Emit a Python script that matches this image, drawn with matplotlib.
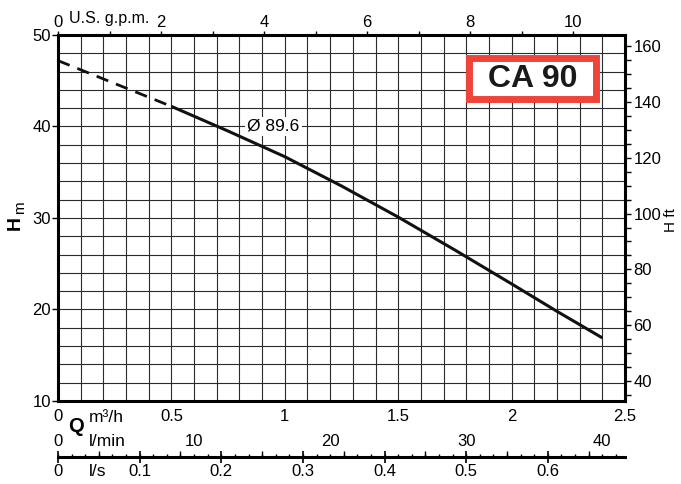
import numpy as np
import matplotlib.pyplot as plt
from matplotlib.ticker import FixedLocator, NullFormatter
from matplotlib.patches import Rectangle

plt.rcParams['font.family'] = ['Liberation Sans', 'DejaVu Sans']

#---------- data ----------
q_dash = [0.0, 0.5]              # m3/h
h_dash = [47.2, 42.2]            # m
q_solid = [0.5, 0.75, 1.0, 1.25, 1.5, 1.75, 2.0, 2.2, 2.4]
h_solid = [42.2, 39.5, 36.7, 33.5, 30.1, 26.5, 22.8, 19.8, 16.9]

q_ticks = [0, 0.5, 1, 1.5, 2, 2.5]
q_labels = ['0', '0.5', '1', '1.5', '2', '2.5']
h_ticks = [10, 20, 30, 40, 50]
gpm_ticks = [0, 2, 4, 6, 8, 10]
ft_ticks = [40, 60, 80, 100, 120, 140, 160]
lmin_ticks = [0, 10, 20, 30, 40]
ls_ticks = [0, 0.1, 0.2, 0.3, 0.4, 0.5, 0.6]
ls_labels = ['0', '0.1', '0.2', '0.3', '0.4', '0.5', '0.6']

curve_name = 'Ø 89.6'
model = 'CA 90'

#---------- unit conversions ----------
GPM = 4.4029      # US gpm per m3/h
FT = 3.28084      # ft per m
LMIN = 1000 / 60  # l/min per m3/h
LS = 1 / 3.6      # l/s per m3/h

FS = 12  # tick label size

W, H = 681, 484
fig = plt.figure(figsize=(W / 100, H / 100), dpi=100)
ax = fig.add_axes([58 / W, 83 / H, 567 / W, 366 / H])

ax.set_xlim(0, 2.5)
ax.set_ylim(10, 50)
ax.set_xticks(q_ticks)
ax.set_xticklabels(q_labels)
ax.set_xticks(np.arange(0, 2.51, 0.1), minor=True)
ax.set_yticks(h_ticks)
ax.set_yticks(np.arange(10, 51, 2), minor=True)
ax.grid(True, which='both', color='#2a2a2a', linewidth=0.8)
ax.set_axisbelow(True)
for s in ax.spines.values():
    s.set_linewidth(2.2)
ax.tick_params(axis='x', which='major', length=0, pad=6, labelsize=FS)
ax.tick_params(axis='y', which='major', length=4, width=1, pad=1, labelsize=FS)
ax.tick_params(which='minor', length=0)

# curve
ax.plot(q_dash, h_dash, color='#111111', lw=2.0, dashes=(4.5, 3))
ax.plot(q_solid, h_solid, color='#111111', lw=2.2, solid_capstyle='butt')
ax.text(0.95, 40, curve_name, fontsize=12.5, ha='center', va='center',
        bbox=dict(facecolor='white', edgecolor='none', pad=1.5))

# model box
ax.add_patch(Rectangle((0.7257, 0.8238), 0.2223, 0.1147, transform=ax.transAxes,
                       facecolor='white', edgecolor='#f0443a', lw=5, zorder=5))
ax.text(0.8369, 0.8811, model, transform=ax.transAxes, fontsize=23, fontweight='bold',
        ha='center', va='center', color='#1a1a1a', zorder=6)

# top axis: US gpm
top = ax.secondary_xaxis('top', functions=(lambda x: x * GPM, lambda x: x / GPM))
top.set_xticks(gpm_ticks)
top.xaxis.set_minor_locator(FixedLocator([1, 3, 5, 7, 9]))
top.tick_params(which='both', length=3, width=1, pad=0.5, labelsize=FS)
top.spines['top'].set_visible(False)

# right axis: ft
right = ax.secondary_yaxis('right', functions=(lambda y: y * FT, lambda y: y / FT))
right.set_yticks(ft_ticks)
right.yaxis.set_minor_locator(FixedLocator(np.arange(35, 165, 5)))
right.tick_params(which='both', length=4.5, width=1, pad=1.5, labelsize=FS)
right.spines['right'].set_visible(False)

# l/min row (labels above the bottom line)
lmin = ax.secondary_xaxis(-0.153, functions=(lambda x: x * LMIN, lambda x: x / LMIN))
lmin.set_alignment('top')
lmin.set_xticks(lmin_ticks)
lmin.xaxis.set_minor_locator(FixedLocator(np.arange(0, 42, 1)))
lmin.tick_params(which='both', direction='out', length=2.2, width=1, pad=3.5, labelsize=FS)
for s in lmin.spines.values():
    s.set_visible(False)

# l/s line
ls = ax.secondary_xaxis(-0.153, functions=(lambda x: x * LS, lambda x: x / LS))
ls.set_xticks(ls_ticks)
ls.set_xticklabels(ls_labels)
ls.xaxis.set_minor_locator(FixedLocator([0.05, 0.15, 0.25, 0.35, 0.45, 0.55, 0.65]))
ls.xaxis.set_minor_formatter(NullFormatter())
ls.tick_params(which='major', direction='inout', length=8.6, width=1.2, pad=0.5, labelsize=FS)
ls.tick_params(which='minor', direction='in', length=4.3, width=1)
ls.spines['bottom'].set_linewidth(2.2)

# axis titles
fig.text(15 / W, 1 - 223 / H, 'H', fontsize=14, fontweight='bold', rotation=90,
         ha='center', va='center')
fig.text(20 / W, 1 - 208 / H, 'm', fontsize=11, rotation=90, ha='center', va='center')
fig.text(671 / W, 1 - 220 / H, 'H ft', fontsize=11, rotation=90, ha='center', va='center')
fig.text(109 / W, 1 - 19 / H, 'U.S. g.p.m.', fontsize=11.5, ha='center', va='center')
fig.text(76 / W, 1 - 427 / H, 'Q', fontsize=14.5, fontweight='bold', ha='center', va='center')
fig.text(89 / W, 1 - 418 / H, 'm³/h', fontsize=12.5, ha='left', va='center')
fig.text(89 / W, 1 - 442 / H, 'l/min', fontsize=12.5, ha='left', va='center')
fig.text(89 / W, 1 - 472 / H, 'l/s', fontsize=12.5, ha='left', va='center')

fig.savefig('out.png', dpi=100)
